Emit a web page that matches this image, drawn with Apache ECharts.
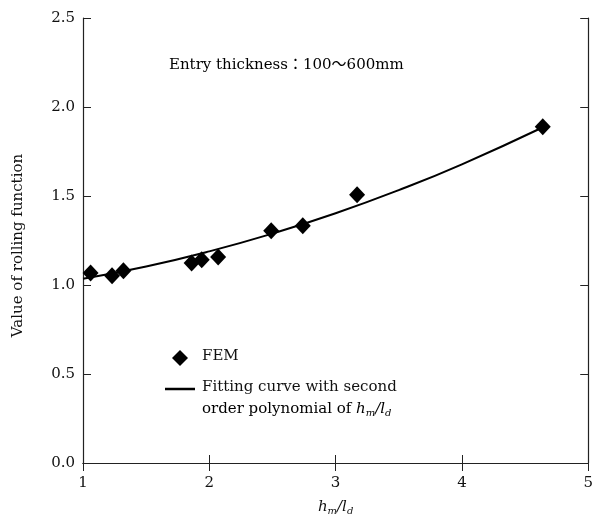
<!DOCTYPE html>
<html>
<head>
<meta charset="utf-8">
<script src="https://cdn.jsdelivr.net/npm/echarts@6/dist/echarts.min.js"></script>
<style>html,body{margin:0;padding:0;background:#fff}#c{width:596px;height:523px}</style>
</head>
<body>
<div id="c"></div>
<script>
// FEM points
var femX = [1.06, 1.23, 1.32, 1.86, 1.94, 2.07, 2.49, 2.74, 3.17, 4.64];
var femY = [1.067, 1.052, 1.080, 1.124, 1.142, 1.157, 1.305, 1.333, 1.507, 1.889];
// Fitting curve
var fitX = [1.0, 1.5, 2.0, 2.5, 3.0, 3.5, 4.0, 4.65];
var fitY = [1.035, 1.104, 1.189, 1.289, 1.403, 1.533, 1.678, 1.889];
// Axis ticks
var xTicks = [1, 2, 3, 4, 5];
var yTicks = [0.0, 0.5, 1.0, 1.5, 2.0, 2.5];

var FONT = 'DejaVu Serif';
var CJK = '"Noto Sans CJK JP"';
var richSub = {
  i: {fontFamily: FONT, fontStyle: 'italic', fontSize: 15, color: '#111'},
  s: {fontFamily: FONT, fontStyle: 'italic', fontSize: 10, color: '#111', padding: [8, 0, 0, 0]},
  n: {fontFamily: FONT, fontSize: 15, color: '#111'},
  c: {fontFamily: CJK, fontSize: 15, color: '#111', padding: [0, 0, 4, 0]}
};

var chart = echarts.init(document.getElementById('c'));
var axisLine = {lineStyle: {color: '#222', width: 1.2}};
var tick = {inside: true, length: 8, lineStyle: {color: '#222', width: 1}};
chart.setOption({
  animation: false,
  backgroundColor: '#fff',
  grid: {left: 83, top: 18, right: 7, bottom: 60, containLabel: false},
  xAxis: [{
    type: 'value', min: xTicks[0], max: xTicks[xTicks.length - 1], interval: 1,
    axisLine: axisLine, axisTick: tick, splitLine: {show: false},
    axisLabel: {margin: 13, fontFamily: FONT, fontSize: 15, color: '#111'},
    name: '{i|h}{s|m}{i|/l}{s|d}', nameLocation: 'middle', nameGap: 35,
    nameTextStyle: {rich: richSub}
  }, {
    type: 'value', position: 'top', min: xTicks[0], max: xTicks[xTicks.length - 1], interval: 1,
    axisLine: axisLine, axisTick: tick, axisLabel: {show: false}, splitLine: {show: false}
  }],
  yAxis: [{
    type: 'value', min: yTicks[0], max: yTicks[yTicks.length - 1], interval: 0.5,
    axisLine: axisLine, axisTick: tick, splitLine: {show: false},
    axisLabel: {margin: 8, fontFamily: FONT, fontSize: 15, color: '#111', formatter: function (v) { return v.toFixed(1); }},
    name: 'Value of rolling function', nameLocation: 'middle', nameGap: 57,
    nameTextStyle: {fontFamily: FONT, fontSize: 15, color: '#111', padding: [0, 10, 0, 0]}
  }, {
    type: 'value', position: 'right', min: yTicks[0], max: yTicks[yTicks.length - 1], interval: 0.5,
    axisLine: axisLine, axisTick: tick, axisLabel: {show: false}, splitLine: {show: false}
  }],
  series: [{
    name: 'Fitting curve', type: 'line', xAxisIndex: 0, yAxisIndex: 0,
    data: fitX.map(function (x, i) { return [x, fitY[i]]; }),
    smooth: true, showSymbol: false, symbol: 'none',
    lineStyle: {color: '#000', width: 2}, z: 2
  }, {
    name: 'FEM', type: 'scatter', xAxisIndex: 0, yAxisIndex: 0,
    data: femX.map(function (x, i) { return [x, femY[i]]; }),
    symbol: 'diamond', symbolSize: [16, 17],
    itemStyle: {color: '#000', opacity: 1}, z: 3
  }],
  graphic: [
    {type: 'text', left: 169, top: 56, style: {
      text: '{n|Entry thickness}{c|：}{n|100}{c|～}{n|600mm}', rich: richSub}},
    {type: 'polygon', shape: {points: [[180, 350], [188, 358], [180, 366], [172, 358]]}, style: {fill: '#000'}},
    {type: 'text', left: 202, top: 349, style: {text: 'FEM', fontFamily: FONT, fontSize: 15, fill: '#111'}},
    {type: 'line', shape: {x1: 165, y1: 389, x2: 195, y2: 389}, style: {stroke: '#000', lineWidth: 2.5}},
    {type: 'text', left: 202, top: 380, style: {text: 'Fitting curve with second', fontFamily: FONT, fontSize: 15, fill: '#111'}},
    {type: 'text', left: 202, top: 402, style: {
      text: '{n|order polynomial of }{i|h}{s|m}{i|/l}{s|d}', rich: richSub
    }}
  ]
});
</script>
</body>
</html>
